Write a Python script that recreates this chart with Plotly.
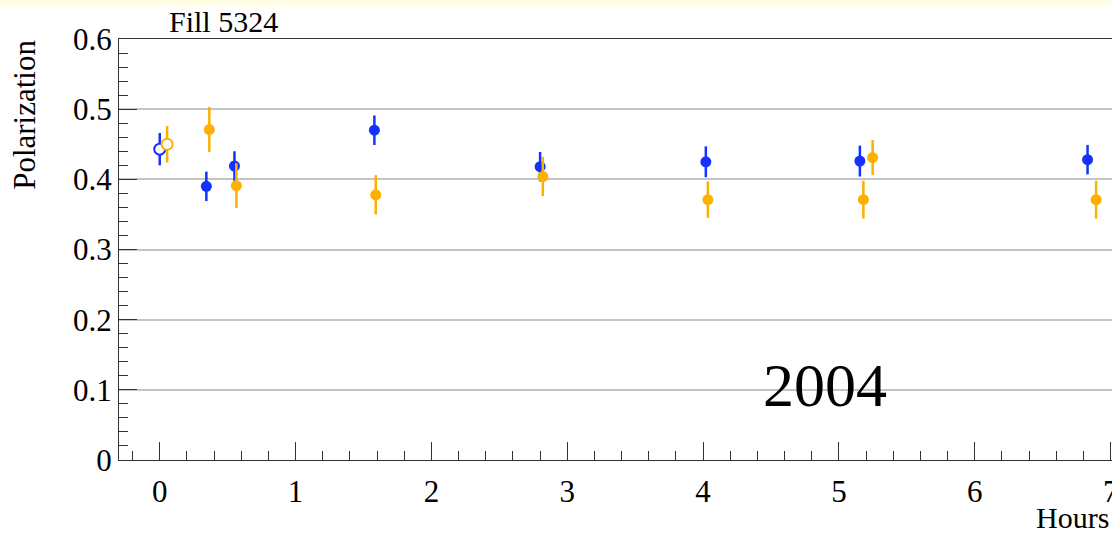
import plotly.graph_objects as go

# Polarization measurements for fill 5324 (time in hours since fill start)
blue_hours = [0.0, 0.343, 0.55, 1.58, 2.80, 4.02, 5.154, 6.83]
blue_pol = [0.443, 0.390, 0.419, 0.470, 0.418, 0.425, 0.426, 0.428]
blue_err = [0.023, 0.021, 0.021, 0.021, 0.021, 0.022, 0.022, 0.021]

orange_hours = [0.054, 0.365, 0.564, 1.59, 2.82, 4.035, 5.18, 5.248, 6.893]
orange_pol = [0.450, 0.471, 0.391, 0.378, 0.404, 0.371, 0.371, 0.431, 0.371]
orange_err = [0.026, 0.032, 0.032, 0.028, 0.028, 0.026, 0.027, 0.025, 0.027]

BLUE = "#1232ff"
ORANGE = "#fcb000"
FONT = "Liberation Serif"

# first point of each series is drawn as an open marker
def marker_style(color, n):
    fills = ["white"] + [color] * (n - 1)
    return dict(size=11, color=fills, line=dict(color=color, width=[2] + [0] * (n - 1)))

fig = go.Figure()
fig.add_trace(go.Scatter(
    x=blue_hours, y=blue_pol, mode="markers",
    marker=marker_style(BLUE, len(blue_hours)),
    error_y=dict(type="data", array=blue_err, color=BLUE, thickness=2.5, width=0),
    showlegend=False,
))
fig.add_trace(go.Scatter(
    x=orange_hours, y=orange_pol, mode="markers",
    marker=marker_style(ORANGE, len(orange_hours)),
    error_y=dict(type="data", array=orange_err, color=ORANGE, thickness=2.5, width=0),
    showlegend=False,
))

fig.update_layout(
    width=1112, height=535,
    margin=dict(l=119, r=0, t=38.5, b=74.5, autoexpand=False),
    paper_bgcolor="white", plot_bgcolor="white",
    font=dict(family=FONT, size=31, color="black"),
    xaxis=dict(
        range=[-0.30, 7.01], dtick=1, tick0=0, automargin=False,
        ticks="inside", ticklen=18, tickwidth=1, tickcolor="#333",
        minor=dict(dtick=0.2, ticks="inside", ticklen=9, tickwidth=1, tickcolor="#333", showgrid=False),
        showline=True, linecolor="#333", linewidth=1, mirror=True,
        showgrid=False, zeroline=False, ticklabeloverflow="allow",
        tickfont=dict(family=FONT, size=31), ticklabelstandoff=4,
    ),
    yaxis=dict(
        range=[0, 0.6], dtick=0.1, tick0=0, automargin=False,
        ticks="inside", ticklen=18, tickwidth=1, tickcolor="#333",
        minor=dict(dtick=0.02, ticks="inside", ticklen=9, tickwidth=1, tickcolor="#333", showgrid=False),
        showline=True, linecolor="#333", linewidth=1,
        showgrid=True, gridcolor="#c4c4c4", gridwidth=1.5, zeroline=False,
        tickfont=dict(family=FONT, size=31), tickformat=".1~f",
    ),
    shapes=[dict(
        type="rect", xref="paper", yref="paper", layer="below",
        x0=-0.2, x1=1.05, y0=1 + 32.5 / 422, y1=1 + 40 / 422,
        fillcolor="#fffde3", line=dict(width=0),
    )],
    annotations=[
        dict(text="Fill 5324", xref="paper", yref="paper", x=(167 - 119) / 993, y=1 + 18 / 422,
             xanchor="left", yanchor="middle", showarrow=False, font=dict(family=FONT, size=30)),
        dict(text="Polarization", xref="paper", yref="paper", x=-(119 - 25) / 993, y=1 - 76 / 422,
             xanchor="center", yanchor="middle", textangle=-90, showarrow=False,
             font=dict(family=FONT, size=31)),
        dict(text="Hours", xref="paper", yref="paper", x=(1111 - 119) / 993, y=-58 / 422,
             xanchor="right", yanchor="middle", showarrow=False, font=dict(family=FONT, size=30)),
        dict(text="2004", xref="paper", yref="paper", x=(825 - 119) / 993, y=(460.5 - 385) / 422,
             xanchor="center", yanchor="middle", showarrow=False, font=dict(family=FONT, size=62)),
    ],
)

fig.write_html("out.html")
